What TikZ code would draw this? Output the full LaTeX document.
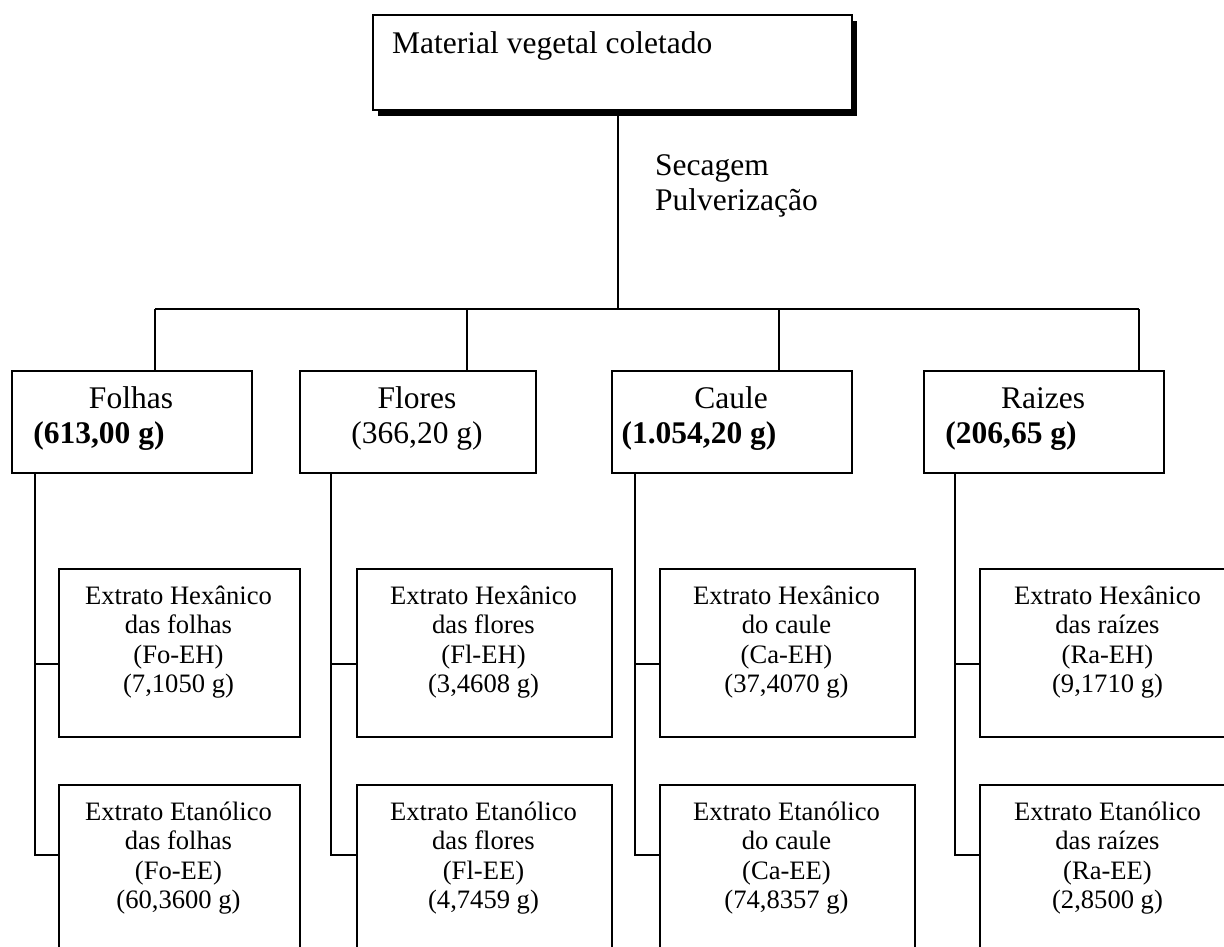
\documentclass[tikz,border=0pt]{standalone}
\usepackage{fontspec}
\setmainfont{Liberation Serif}
\usetikzlibrary{shadows}
\begin{document}
\begin{tikzpicture}[x=1pt,y=-1pt,
  frame/.style={draw=black, line width=1.8pt, fill=white, inner sep=0pt, anchor=north west},
  catbox/.style={frame, minimum height=102pt},
  exbox/.style={frame, minimum height=168pt},
  openbox/.style={frame, minimum height=190pt},
  link/.style={draw=black, line width=1.8pt},
  big/.style={font=\fontsize{31.5}{35}\selectfont, inner sep=0pt},
  small/.style={font=\fontsize{26.6}{29.5}\selectfont, inner sep=0pt, align=center},
]
\useasboundingbox (0,0) rectangle (1224,946);
\clip (0,0) rectangle (1224,946);

% ---- root box with its drop shadow
\node[frame, minimum width=479pt, minimum height=95pt,
      drop shadow={shadow xshift=5pt, shadow yshift=-6pt, fill=black, opacity=1}]
      (root) at (372,14) {};
\node[big, anchor=base west] (roottxt) at (392,53) {Material vegetal coletado};

% ---- processing steps
\node[big, anchor=base west] (step1) at (655,175) {Secagem};
\node[big, anchor=base west] (step2) at (655,210) {Pulverização};

% ---- distribution bar
\coordinate (hub) at (618,309);
\coordinate (barL) at (155,309);
\coordinate (barFl) at (467,309);
\coordinate (barCa) at (779,309);
\coordinate (barR) at (1139,309);

% ---- plant parts
\node[catbox, minimum width=240pt] (fo) at (11,370) {};
\node[catbox, minimum width=236pt] (fl) at (299,370) {};
\node[catbox, minimum width=240pt] (ca) at (611,370) {};
\node[catbox, minimum width=240pt] (ra) at (923,370) {};

\node[big, anchor=base] (foA) at (131,408) {Folhas};
\node[big, anchor=base] (foB) at (99,443) {\textbf{(613,00 g)}};
\node[big, anchor=base] (flA) at (417,408) {Flores};
\node[big, anchor=base] (flB) at (417,443) {(366,20 g)};
\node[big, anchor=base] (caA) at (731,408) {Caule};
\node[big, anchor=base] (caB) at (699,443) {\textbf{(1.054,20 g)}};
\node[big, anchor=base] (raA) at (1043,408) {Raizes};
\node[big, anchor=base] (raB) at (1011,443) {\textbf{(206,65 g)}};

% ---- extracts
\node[exbox, minimum width=241pt] (foEH) at (58,568) {};
\node[exbox, minimum width=255pt] (flEH) at (356,568) {};
\node[exbox, minimum width=255pt] (caEH) at (659,568) {};
\node[exbox, minimum width=255pt] (raEH) at (979,568) {};
\node[openbox, minimum width=241pt] (foEE) at (58,784) {};
\node[openbox, minimum width=255pt] (flEE) at (356,784) {};
\node[openbox, minimum width=255pt] (caEE) at (659,784) {};
\node[openbox, minimum width=255pt] (raEE) at (979,784) {};

\node[small] (foEHt) at (178.5,642) {Extrato Hexânico\\das folhas\\(Fo-EH)\\(7,1050 g)};
\node[small] (flEHt) at (483.5,642) {Extrato Hexânico\\das flores\\(Fl-EH)\\(3,4608 g)};
\node[small] (caEHt) at (786.5,642) {Extrato Hexânico\\do caule\\(Ca-EH)\\(37,4070 g)};
\node[small] (raEHt) at (1107.5,642) {Extrato Hexânico\\das raízes\\(Ra-EH)\\(9,1710 g)};
\node[small] (foEEt) at (178.5,858) {Extrato Etanólico\\das folhas\\(Fo-EE)\\(60,3600 g)};
\node[small] (flEEt) at (483.5,858) {Extrato Etanólico\\das flores\\(Fl-EE)\\(4,7459 g)};
\node[small] (caEEt) at (786.5,858) {Extrato Etanólico\\do caule\\(Ca-EE)\\(74,8357 g)};
\node[small] (raEEt) at (1107.5,858) {Extrato Etanólico\\das raízes\\(Ra-EE)\\(2,8500 g)};

% ---- trunk positions below each plant part
\coordinate (tFo) at (35,664);   \coordinate (bFo) at (35,855);
\coordinate (tFl) at (331,664);  \coordinate (bFl) at (331,855);
\coordinate (tCa) at (635,664);  \coordinate (bCa) at (635,855);
\coordinate (tRa) at (955,664);  \coordinate (bRa) at (955,855);

% ---- connectors
\draw[link] (root.south -| hub) -- (hub);
\draw[link] (barL) -- (barR);
\draw[link] (barL) -- (barL |- fo.north);
\draw[link] (barFl) -- (barFl |- fl.north);
\draw[link] (barCa) -- (barCa |- ca.north);
\draw[link] (barR) -- (barR |- ra.north);

\foreach \p/\q/\r/\s/\u in {fo/tFo/bFo/foEH/foEE, fl/tFl/bFl/flEH/flEE,
                           ca/tCa/bCa/caEH/caEE, ra/tRa/bRa/raEH/raEE}{
  \draw[link] (\p.south -| \q) -- (\r) -- (\r -| \u.west);
  \draw[link] (\q) -- (\q -| \s.west);
}
\end{tikzpicture}
\end{document}
